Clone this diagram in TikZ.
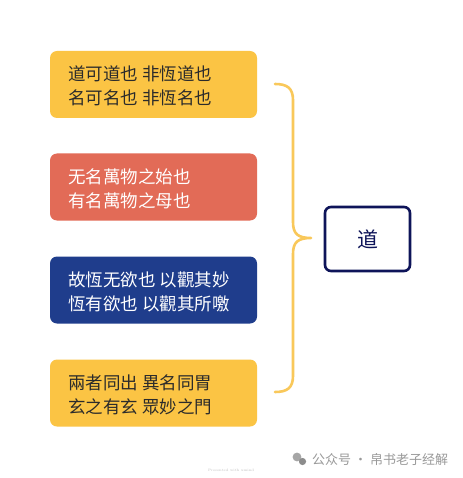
\documentclass[tikz,border=0pt]{standalone}
\usepackage{fontspec}
\newfontfamily\cjk{Noto Sans CJK SC}
\definecolor{cyellow}{HTML}{FBC444}
\definecolor{cred}{HTML}{E26B57}
\definecolor{cblue}{HTML}{1F3D8C}
\definecolor{cnavy}{HTML}{0E1459}
\definecolor{cbrace}{HTML}{F9C85A}
\definecolor{ctext}{HTML}{2B2B2B}
\begin{document}
\begin{tikzpicture}[x=1pt,y=-1pt,
  leaf/.style={rounded corners=7pt, minimum width=207pt, minimum height=67pt, inner sep=0pt},
  leaftext/.style={anchor=west, align=left, font=\cjk\fontsize{17.5}{24}\selectfont, inner sep=0pt},
  root/.style={draw=cnavy, line width=2.6pt, rounded corners=6pt, fill=white, minimum width=85pt, minimum height=64pt, text=cnavy, font=\cjk\fontsize{21}{24}\selectfont},
  bracestyle/.style={draw=cbrace, line width=2.6pt, line cap=round, line join=round}
]
\useasboundingbox (0,0) rectangle (462,478);
\fill[white] (0,0) rectangle (462,478);

\node[leaf, fill=cyellow] (b1) at (153.5,84.5) {};
\node[leaftext, text=ctext] (t1) at (68,86) {道可道也 非恆道也\\名可名也 非恆名也};

\node[leaf, fill=cred] (b2) at (153.5,187) {};
\node[leaftext, text=white] (t2) at (68,189) {无名萬物之始也\\有名萬物之母也};

\node[leaf, fill=cblue] (b3) at (153.5,290) {};
\node[leaftext, text=white] (t3) at (68,292) {故恆无欲也 以觀其妙\\恆有欲也 以觀其所噭};

\node[leaf, fill=cyellow] (b4) at (153.5,393) {};
\node[leaftext, text=ctext] (t4) at (68,395) {兩者同出 異名同胃\\玄之有玄 眾妙之門};

\node[root] (r) at (367.5,239) {道};

\coordinate (top) at (275,84);
\coordinate (bot) at (275,392);
\coordinate (tip) at (311,238);
\draw[bracestyle] (top) .. controls (287,84) and (293,88) .. (293,100)
  -- (293,222) .. controls (293,234) and (298,238) .. (tip)
  (tip) .. controls (298,238) and (293,242) .. (293,254)
  -- (293,376) .. controls (293,388) and (287,392) .. (bot);

% watermark
\node[font=\fontsize{3.5}{4}\selectfont, text=black!25, inner sep=0pt] (pw) at (231,470) {Presented with xmind};
\fill[black!35] (297,457) circle (4.4pt);
\fill[black!45] (302.5,461.5) circle (3.6pt);
\node[font=\cjk\fontsize{13}{14}\selectfont, text=black!40, anchor=west, inner sep=0pt] (wm) at (312,460) {公众号 · 帛书老子经解};
\end{tikzpicture}
\end{document}
